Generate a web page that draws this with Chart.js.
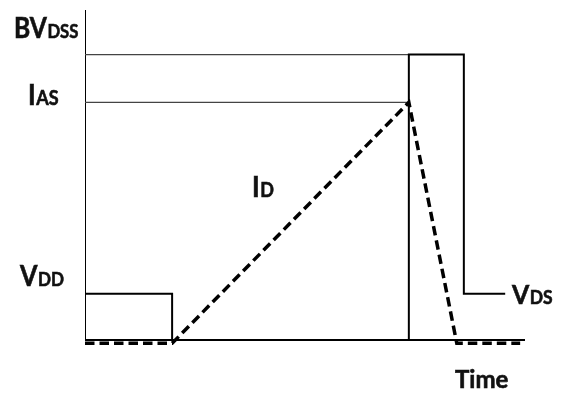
<!DOCTYPE html>
<html>
<head>
<meta charset="utf-8">
<script src="https://cdn.jsdelivr.net/npm/chart.js@4/dist/chart.umd.min.js"></script>
<style>
  html, body { margin: 0; padding: 0; background: #fff; }
  #c { display: block; }
</style>
</head>
<body>
<canvas id="c" width="565" height="394"></canvas>
<script>
// ---- data (time in arbitrary units, level in arbitrary units) ----
const axisTime = [0, 10];            // time axis extent
const axisLevel = [0, 10];           // level axis extent
const bvdssLevel = 8.65;             // BV_DSS
const iasLevel = 7.2;                // I_AS
const refLineTime = [0, 7.36];       // reference lines from axis to pulse
const vdsTime  = [0, 1.98, 1.98, 7.36, 7.36, 8.61, 8.61, 9.55];
const vdsLevel = [1.4, 1.4, 0, 0, 8.65, 8.65, 1.4, 1.4];
const idTime   = [0, 1.98, 7.36, 8.45, 9.89];
const idLevel  = [-0.1, -0.1, 7.2, -0.1, -0.1];

const pts = (xs, ys) => xs.map((x, i) => ({ x, y: ys[i] }));

const labelPlugin = {
  id: 'labels',
  afterDatasetsDraw(chart) {
    const ctx = chart.ctx;
    const fam = 'Lato, "Open Sans", "Liberation Sans", sans-serif';
    const draw = (main, sub, x, y, big, small, sx) => {
      ctx.save();
      ctx.translate(x, y);
      ctx.scale(sx, 1);
      ctx.fillStyle = '#111';
      ctx.strokeStyle = '#111';
      ctx.lineWidth = 0.6;
      ctx.textBaseline = 'alphabetic';
      ctx.textAlign = 'left';
      ctx.font = `bold ${big}px ${fam}`;
      ctx.fillText(main, 0, 0);
      ctx.strokeText(main, 0, 0);
      const w = ctx.measureText(main).width;
      if (sub) {
        ctx.font = `bold ${small}px ${fam}`;
        ctx.fillText(sub, w + 0.5, 0);
        ctx.strokeText(sub, w + 0.5, 0);
      }
      ctx.restore();
    };
    draw('BV', 'DSS', 14, 38, 28, 19, 0.88);
    draw('I', 'AS', 28, 105, 29, 20, 0.9);
    draw('V', 'DD', 20, 286, 28, 19, 0.9);
    draw('V', 'DS', 512, 304, 27, 19, 0.92);
    draw('I', 'D', 252, 197, 29, 20, 0.9);
    draw('Time', '', 455, 388, 24, 0, 1);
  }
};

const base = { pointRadius: 0, tension: 0, fill: false, borderJoinStyle: 'miter', borderCapStyle: 'butt' };

new Chart(document.getElementById('c'), {
  type: 'scatter',
  data: {
    datasets: [
      { ...base, label: 'I_D', data: pts(idTime, idLevel), showLine: true,
        borderColor: '#000', borderWidth: 3.5, borderDash: [9.5, 5], order: 0 },
      { ...base, label: 'V_DS', data: pts(vdsTime, vdsLevel), showLine: true,
        borderColor: '#000', borderWidth: 2, order: 1 },
      { ...base, label: 'BV_DSS', data: pts(refLineTime, [bvdssLevel, bvdssLevel]), showLine: true,
        borderColor: '#444', borderWidth: 1.3, order: 2 },
      { ...base, label: 'I_AS', data: pts(refLineTime, [iasLevel, iasLevel]), showLine: true,
        borderColor: '#444', borderWidth: 1.3, order: 2 },
      { ...base, label: 'x-axis', data: pts(axisTime, [0, 0]), showLine: true,
        borderColor: '#000', borderWidth: 2, order: 3 },
      { ...base, label: 'y-axis', data: pts([0, 0], axisLevel), showLine: true,
        borderColor: '#000', borderWidth: 2, order: 3 }
    ]
  },
  options: {
    responsive: false,
    animation: false,
    devicePixelRatio: 1,
    layout: { padding: { left: 85, right: 40, top: 10, bottom: 37.5 } },
    plugins: { legend: { display: false }, tooltip: { enabled: false } },
    scales: {
      x: { type: 'linear', min: 0, max: 10, display: false },
      y: { type: 'linear', min: -0.5, max: 10, display: false }
    }
  },
  plugins: [labelPlugin]
});
</script>
</body>
</html>
